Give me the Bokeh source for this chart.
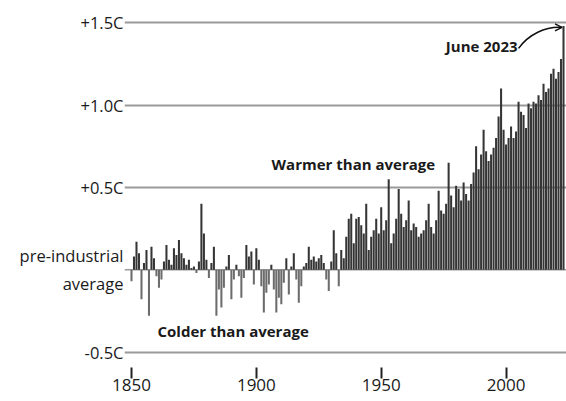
from bokeh.plotting import figure
from bokeh.models import ColumnDataSource, FixedTicker, Span, Arrow, OpenHead, Range1d
from bokeh.core.properties import value
from bokeh.embed import file_html
from bokeh.resources import INLINE

# ---- data ----
years = list(range(1850, 2024))
anomaly = [
    -0.07, 0.08, 0.17, 0.10, -0.18, 0.04, 0.12, -0.28, 0.14, 0.07,   # 1850s
    -0.04, -0.11, -0.06, 0.05, 0.15, 0.06, 0.03, 0.13, 0.09, 0.18,   # 1860s
    0.10, 0.07, 0.03, 0.06, 0.01, 0.02, -0.02, 0.05, 0.40, 0.22,     # 1870s
    0.06, -0.05, 0.04, 0.14, -0.28, -0.12, -0.23, -0.11, 0.02, 0.09, # 1880s
    -0.18, -0.06, 0.03, -0.04, -0.17, -0.05, 0.15, 0.08, 0.11, -0.09,# 1890s
    0.13, 0.06, -0.10, -0.26, -0.14, -0.09, 0.03, -0.12, -0.26, -0.17,  # 1900s
    -0.21, -0.08, 0.07, -0.15, 0.02, 0.10, -0.06, -0.20, -0.10, 0.02,   # 1910s
    0.04, 0.14, 0.06, 0.08, 0.05, 0.07, 0.09, 0.04, -0.06, -0.13,    # 1920s
    0.05, 0.24, 0.10, -0.10, 0.12, 0.07, 0.20, 0.31, 0.34, 0.16,     # 1930s
    0.31, 0.32, 0.27, 0.22, 0.40, 0.12, 0.20, 0.24, 0.31, 0.22,      # 1940s
    0.38, 0.24, 0.30, 0.55, 0.16, 0.22, 0.31, 0.49, 0.34, 0.26,      # 1950s
    0.30, 0.42, 0.24, 0.28, 0.26, 0.20, 0.22, 0.24, 0.30, 0.40,      # 1960s
    0.26, 0.22, 0.30, 0.48, 0.36, 0.34, 0.40, 0.65, 0.45, 0.38,      # 1970s
    0.51, 0.49, 0.42, 0.53, 0.46, 0.42, 0.52, 0.59, 0.75, 0.61,      # 1980s
    0.70, 0.85, 0.72, 0.66, 0.70, 0.74, 0.80, 0.93, 1.10, 0.85,      # 1990s
    0.76, 0.80, 0.87, 0.80, 0.84, 1.02, 0.96, 0.94, 0.86, 1.01,      # 2000s
    0.98, 1.02, 1.01, 1.06, 1.03, 1.13, 1.08, 1.10, 1.19, 1.22,      # 2010s
    1.16, 1.20, 1.28, 1.48,                                          # 2020-2023
]

y_ticks = [-0.5, 0.0, 0.5, 1.0, 1.5]
y_tick_labels = ["-0.5C", "pre-industrial\naverage", "+0.5C", "+1.0C", "+1.5C"]
x_ticks = [1850, 1900, 1950, 2000]

warm_label = "Warmer than average"
cold_label = "Colder than average"
last_label = "June 2023"

# ---- styles ----
FONT = "Open Sans"
TEXT_COLOR = "#1a1a1a"
POS_COLOR = "#353535"
NEG_COLOR = "#6c6c6c"
GRID_COLOR = "#9a9a9a"

colors = [POS_COLOR if v >= 0 else NEG_COLOR for v in anomaly]
src = ColumnDataSource(dict(year=years, anomaly=anomaly, color=colors))

p = figure(width=566, height=401, output_backend="svg", toolbar_location=None,
           x_range=Range1d(1847.2, 2024.2), y_range=Range1d(-0.594, 1.635),
           min_border_left=124, min_border_right=0, min_border_top=0,
           min_border_bottom=34)
p.outline_line_color = None
p.background_fill_color = "white"
p.border_fill_color = "white"

# grid
p.xgrid.grid_line_color = None
p.ygrid.ticker = FixedTicker(ticks=[t for t in y_ticks if t != 0])
p.ygrid.grid_line_color = GRID_COLOR
p.ygrid.grid_line_width = 2

zero = Span(location=0, dimension="width", line_color=GRID_COLOR, line_width=1.5,
            level="underlay")
p.add_layout(zero)

# bars
p.vbar(x="year", top="anomaly", bottom=0, width=0.82, source=src,
       fill_color="color", line_color=None)

# y axis
p.yaxis.ticker = FixedTicker(ticks=y_ticks)
p.yaxis.major_label_overrides = {t: lab for t, lab in zip(y_ticks, y_tick_labels)}
p.yaxis.axis_line_color = None
p.yaxis.major_tick_line_color = None
p.yaxis.minor_tick_line_color = None
p.yaxis.major_tick_in = 0
p.yaxis.major_tick_out = 0
p.yaxis.major_label_standoff = 1
p.yaxis.major_label_text_font = FONT
p.yaxis.major_label_text_font_size = "16.5px"
p.yaxis.major_label_text_color = TEXT_COLOR

# x axis
p.xaxis.ticker = FixedTicker(ticks=x_ticks)
p.xaxis.axis_line_color = None
p.xaxis.minor_tick_line_color = None
p.xaxis.major_tick_in = 0
p.xaxis.major_tick_out = 11
p.xaxis.major_tick_line_width = 2
p.xaxis.major_tick_line_color = "#222222"
p.xaxis.major_label_standoff = 0
p.xaxis.major_label_text_font = FONT
p.xaxis.major_label_text_font_size = "17px"
p.xaxis.major_label_text_color = TEXT_COLOR

# annotations
ann_style = dict(text_font_size="15px", text_font_style="bold",
                 text_color=TEXT_COLOR, text_baseline="middle")
p.text(x=[1906.1], y=[0.645], text=[warm_label], text_align="left",
       text_font=value(FONT), **ann_style)
p.text(x=[1860.4], y=[-0.375], text=[cold_label], text_align="left",
       text_font=value(FONT), **ann_style)
p.text(x=[2004.6], y=[1.356], text=[last_label], text_align="right",
       text_font=value(FONT), **ann_style)

# curved arrow to the last bar
end_x = years[-1] - 0.8
end_y = 1.472
p.bezier(x0=[2005.0], y0=[1.344], x1=[end_x], y1=[end_y],
         cx0=[2009.0], cy0=[1.429], cx1=[2015.8], cy1=[1.478],
         line_color="#111111", line_width=1.5)
p.add_layout(Arrow(end=OpenHead(size=7, line_width=1.5, line_color="#111111"),
                   x_start=end_x - 0.6, y_start=end_y, x_end=end_x + 0.2, y_end=end_y,
                   line_color="#111111", line_width=1.5))

open("out.html", "w").write(file_html(p, INLINE))
